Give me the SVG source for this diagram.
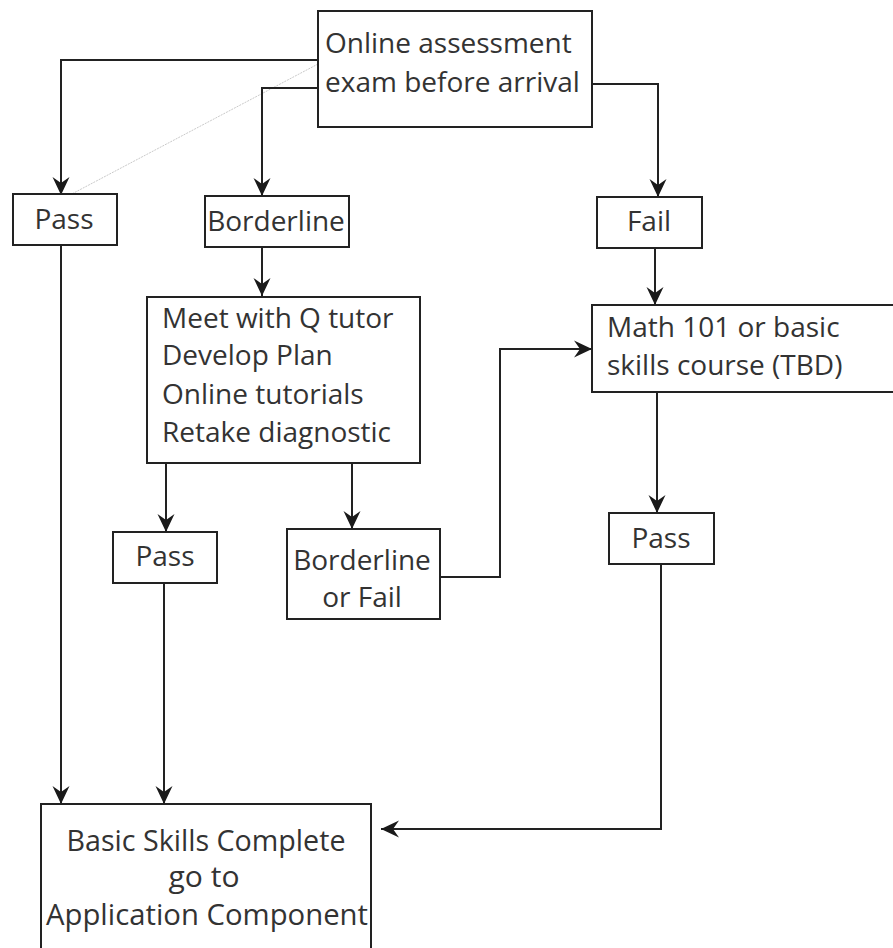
<svg xmlns="http://www.w3.org/2000/svg" width="893" height="948" viewBox="0 0 893 948">
<style>
.box{fill:#fff;stroke:#222;stroke-width:2}
.t{font-family:"Open Sans","Noto Sans",sans-serif;font-size:28px;fill:#333}
.c{text-anchor:middle}
.cn{font-family:"Open Sans","Noto Sans",sans-serif;font-size:29px;fill:#333;text-anchor:middle}
.ln{fill:none;stroke:#222;stroke-width:2}
</style>
<defs>
<marker id="ah" markerUnits="userSpaceOnUse" markerWidth="20" markerHeight="20" viewBox="0 -10 20 20" refX="18" refY="0" orient="auto">
<path d="M0,-8.5 L18,0 L0,8.5 L6,0 Z" fill="#1a1a1a"/>
</marker>
</defs>
<rect width="893" height="948" fill="#fff"/>
<g id="connectors">
<polyline class="ln" points="318,60 61,60 61,195" marker-end="url(#ah)"/>
<line x1="318" y1="64" x2="68" y2="196" stroke="#bbb" stroke-width="0.8" stroke-dasharray="2,1"/>
<polyline class="ln" points="318,88 262,88 262,196" marker-end="url(#ah)"/>
<polyline class="ln" points="592,84 658,84 658,197" marker-end="url(#ah)"/>
<polyline class="ln" points="262,247 262,296" marker-end="url(#ah)"/>
<polyline class="ln" points="655,248 655,305" marker-end="url(#ah)"/>
<polyline class="ln" points="166,463 166,532" marker-end="url(#ah)"/>
<polyline class="ln" points="352,463 352,529" marker-end="url(#ah)"/>
<polyline class="ln" points="440,577 500,577 500,349 592,349" marker-end="url(#ah)"/>
<polyline class="ln" points="657,392 657,513" marker-end="url(#ah)"/>
<polyline class="ln" points="661,564 661,829 381,829" marker-end="url(#ah)"/>
<polyline class="ln" points="61,245 61,804" marker-end="url(#ah)"/>
<polyline class="ln" points="164,583 164,804" marker-end="url(#ah)"/>
</g>
<g id="online">
<rect class="box" x="318" y="11" width="274" height="116"/>
<text class="t" x="325" y="53">Online assessment</text>
<text class="t" x="325" y="92">exam before arrival</text>
</g>
<g id="pass1">
<rect class="box" x="13" y="194" width="104" height="51"/>
<text class="t c" x="64" y="229">Pass</text>
</g>
<g id="borderline1">
<rect class="box" x="205" y="196" width="144" height="51"/>
<text class="t c" x="276" y="231">Borderline</text>
</g>
<g id="fail">
<rect class="box" x="597" y="197" width="105" height="51"/>
<text class="t c" x="649" y="231">Fail</text>
</g>
<g id="meet">
<rect class="box" x="147" y="297" width="273" height="166"/>
<text class="t" x="162" y="328">Meet with Q tutor</text>
<text class="t" x="162" y="365">Develop Plan</text>
<text class="t" x="162" y="404">Online tutorials</text>
<text class="t" x="162" y="442">Retake diagnostic</text>
</g>
<g id="math">
<rect class="box" x="592" y="305" width="310" height="87"/>
<text class="t" x="607" y="337">Math 101 or basic</text>
<text class="t" x="607" y="375">skills course (TBD)</text>
</g>
<g id="pass2">
<rect class="box" x="113" y="532" width="104" height="51"/>
<text class="t c" x="165" y="566">Pass</text>
</g>
<g id="borderlinefail">
<rect class="box" x="287" y="529" width="153" height="90"/>
<text class="t c" x="362" y="570">Borderline</text>
<text class="t c" x="362" y="607">or Fail</text>
</g>
<g id="pass3">
<rect class="box" x="609" y="513" width="105" height="51"/>
<text class="t c" x="661" y="548">Pass</text>
</g>
<g id="complete">
<rect class="box" x="41" y="804" width="330" height="160"/>
<text class="cn" x="206" y="851" textLength="279" lengthAdjust="spacingAndGlyphs">Basic Skills Complete</text>
<text class="cn" x="204" y="887" textLength="71" lengthAdjust="spacingAndGlyphs">go to</text>
<text class="cn" x="207" y="925" textLength="322" lengthAdjust="spacingAndGlyphs">Application Component</text>
</g>
</svg>
